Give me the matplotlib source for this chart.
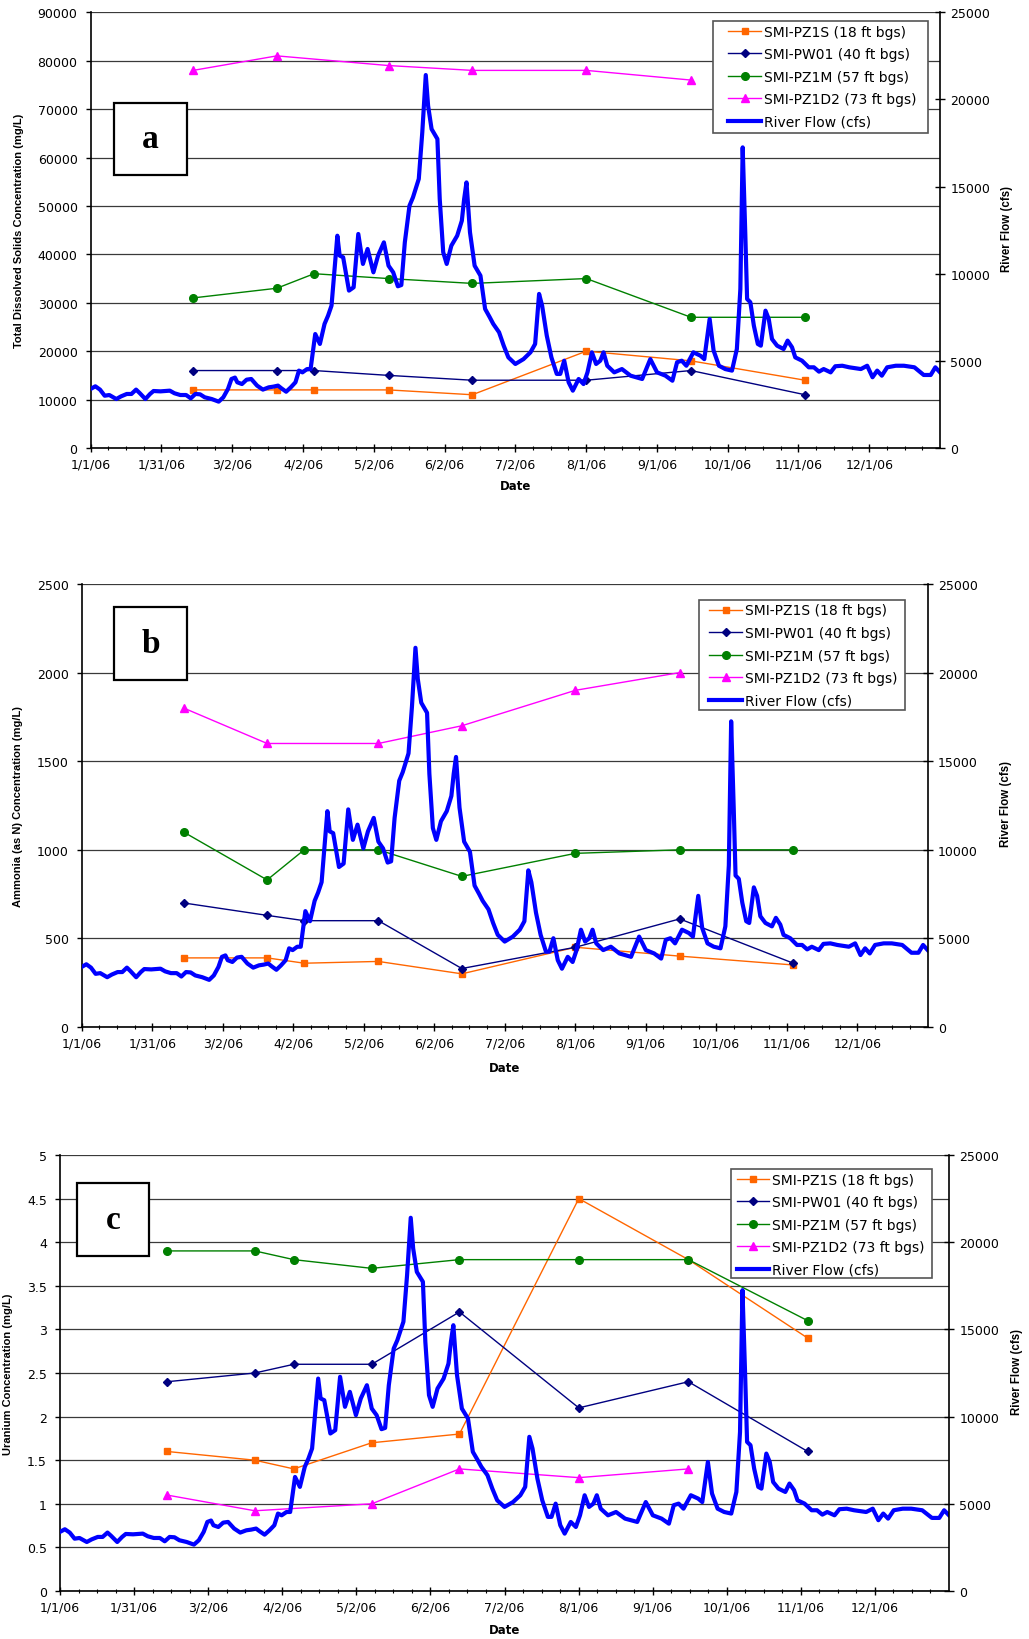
import numpy as np
import matplotlib.pyplot as plt
from matplotlib.patches import Rectangle
from matplotlib.ticker import FuncFormatter

plt.rcParams['font.family'] = ['DejaVu Sans']

W, H = 1029, 1640

# x axis: day of year 2006, Excel style evenly spaced date ticks
date_labels = ['1/1/06', '1/31/06', '3/2/06', '4/2/06', '5/2/06', '6/2/06',
               '7/2/06', '8/1/06', '9/1/06', '10/1/06', '11/1/06', '12/1/06']

# sampling dates (day of year)
sample_days = [44, 80, 96, 128, 164, 213, 258, 307]
well_names = ['SMI-PZ1S (18 ft bgs)', 'SMI-PW01 (40 ft bgs)',
              'SMI-PZ1M (57 ft bgs)', 'SMI-PZ1D2 (73 ft bgs)']
nan = np.nan

# a - total dissolved solids (mg/L)
tds_pz1s = [12000, 12000, 12000, 12000, 11000, 20000, 18000, 14000]
tds_pw01 = [16000, 16000, 16000, 15000, 14000, 14000, 16000, 11000]
tds_pz1m = [31000, 33000, 36000, 35000, 34000, 35000, 27000, 27000]
tds_pz1d2 = [78000, 81000, nan, 79000, 78000, 78000, 76000, nan]

# b - ammonia as N (mg/L)
nh3_pz1s = [390, 390, 360, 370, 300, 450, 400, 350]
nh3_pw01 = [700, 630, 600, 600, 330, 450, 610, 360]
nh3_pz1m = [1100, 830, 1000, 1000, 850, 980, 1000, 1000]
nh3_pz1d2 = [1800, 1600, nan, 1600, 1700, 1900, 2000, nan]

# c - uranium (mg/L)
u_pz1s = [1.6, 1.5, 1.4, 1.7, 1.8, 4.5, 3.8, 2.9]
u_pw01 = [2.4, 2.5, 2.6, 2.6, 3.2, 2.1, 2.4, 1.6]
u_pz1m = [3.9, 3.9, 3.8, 3.7, 3.8, 3.8, 3.8, 3.1]
u_pz1d2 = [1.1, 0.92, nan, 1.0, 1.4, 1.3, 1.4, nan]

# river flow (cfs)
flow_day = [0, 2, 4, 6, 8, 11, 13, 15.5, 17.5, 19.5, 21, 23.5, 25.5, 27, 30, 34, 36,
            38.5, 41, 43, 45, 47, 49, 52, 55, 57, 59, 60.5, 62, 63, 65, 67, 69, 71.5,
            74, 76.5, 78.5, 80.5, 82, 84, 86, 88, 89.5, 91, 93, 94.5, 96.5, 98.5,
            100.5, 102, 103.5, 106, 107, 108.5, 111, 113, 115, 117, 119, 121.5,
            123.5, 126, 128, 130, 132, 133.5, 135, 137, 138.5, 141, 142.5, 144,
            145, 146.5, 149, 150, 151.5, 153, 155, 157.5, 159.5, 160.5, 161.5, 163,
            165, 167.5, 169.5, 171.5, 173, 175.5, 177.5, 179.5, 182.5, 186, 189,
            191, 192.7, 194, 196, 198, 200.3, 201.8, 203.5, 205.4, 207.2, 209.7,
            211.8, 213.5, 215.4, 217.2, 219, 220.4, 222, 225, 228.3, 232, 237,
            240.5, 243.4, 247, 250, 252, 254, 256, 259, 262, 263.7, 266, 267.7,
            270, 272.7, 275.6, 277.7, 279.2, 280.2, 281.3, 282.1, 283.5, 285,
            286.7, 288, 290, 291.4, 292.8, 295, 297.8, 299.5, 301.4, 302.8, 305.7,
            308.6, 310.8, 313, 315, 318, 320, 323, 326, 331, 333.7, 336, 338, 340,
            342.3, 346, 349.5, 354, 358, 361, 363, 365]
flow_cfs = [3390, 3540, 3350, 3000, 3040, 2810, 2960, 3100, 3100, 3350, 3160, 2810,
            3100, 3270, 3250, 3290, 3140, 3040, 3040, 2850, 3100, 3080, 2910, 2810,
            2660, 2910, 3390, 3960, 4040, 3770, 3670, 3920, 3960, 3580, 3350, 3480,
            3520, 3580, 3420, 3230, 3480, 3770, 4440, 4340, 4530, 4530, 6540, 5970,
            7120, 7590, 8170, 12180, 11040, 10940, 9030, 9220, 12280, 10560, 11420,
            10080, 11040, 11800, 10460, 10080, 9280, 9350, 11800, 13900, 14380,
            15440, 18110, 21400, 19640, 18300, 17730, 14290, 11230, 10560, 11610,
            12180, 13040, 14290, 15240, 12380, 10460, 9890, 7980, 7500, 7120, 6640,
            5870, 5200, 4820, 5100, 5490, 5970, 8840, 8170, 6450, 5200, 4250, 4250,
            5010, 3770, 3290, 3960, 3670, 4340, 5490, 4820, 5010, 5490, 4720, 4340,
            4530, 4150, 3960, 5100, 4340, 4150, 3860, 4920, 5010, 4720, 5490, 5300,
            5100, 7400, 5590, 4720, 4530, 4440, 5680, 9120, 17250, 12380, 8550,
            8360, 7020, 5970, 5870, 7880, 7400, 6250, 5870, 5680, 6160, 5780, 5200,
            5010, 4630, 4630, 4380, 4530, 4340, 4690, 4720, 4630, 4530, 4720, 4060,
            4440, 4150, 4630, 4720, 4720, 4630, 4190, 4190, 4630, 4340]

styles = [dict(color='#FF6600', marker='s', ms=4.5),
          dict(color='#000080', marker='D', ms=4),
          dict(color='#008000', marker='o', ms=5.5),
          dict(color='#FF00FF', marker='^', ms=5.5)]


def fx(px):
    return px / W


def fy(py):
    return 1 - py / H


fig = plt.figure(figsize=(W / 100, H / 100), dpi=100)


def panel(box, wells, ymax, ystep, ylabel, letter, letter_box, leg_xy,
          ylab_x, rlab_x, date_y):
    l, t, r, b = box
    ax = fig.add_axes([fx(l), fy(b), (r - l) / W, (b - t) / H])
    handles = []
    for vals, st, name in zip(wells, styles, well_names):
        v = np.array(vals, dtype=float)
        d = np.array(sample_days, dtype=float)
        ok = ~np.isnan(v)
        ln, = ax.plot(d[ok], v[ok], lw=1.0, mec=st['color'], **st)
        handles.append(ln)
    ax.set_xlim(0, 365)
    ax.set_ylim(0, ymax)
    ax.set_yticks(np.arange(0, ymax + ystep / 2, ystep))
    ax.yaxis.set_major_formatter(FuncFormatter(lambda v, p: '%g' % v))
    ax.set_xticks([k * 365 / 12 for k in range(12)])
    ax.set_xticklabels(date_labels)
    ax.set_xticks([k * 365 / 48 for k in range(48) if k % 4], minor=True)
    ax.yaxis.grid(True, color='#3a3a3a', lw=0.9)
    ax.set_axisbelow(True)
    ax.spines['top'].set_visible(False)
    ax.spines['right'].set_visible(False)
    for s in ('left', 'bottom'):
        ax.spines[s].set_linewidth(1.2)
    ax.tick_params(axis='y', direction='out', length=3.5, width=1, pad=6, labelsize=9)
    ax.tick_params(axis='x', which='major', direction='inout', length=6, width=1,
                   pad=4, labelsize=9)
    ax.tick_params(axis='x', which='minor', direction='inout', length=3.5, width=0.8)

    ax2 = ax.twinx()
    rl, = ax2.plot(flow_day, flow_cfs, color='#0000FF', lw=3)
    handles.append(rl)
    ax2.set_ylim(0, 25000)
    ax2.set_yticks(np.arange(0, 25001, 5000))
    ax2.set_xlim(0, 365)
    for s in ('top', 'left', 'bottom'):
        ax2.spines[s].set_visible(False)
    ax2.spines['right'].set_linewidth(1.2)
    ax2.tick_params(axis='y', direction='inout', length=7, width=1, pad=4, labelsize=9)

    # legend with a hand placed frame
    fl, ft, fr, fb = leg_xy[0]
    ax2.add_patch(Rectangle((fx(fl), fy(fb)), (fr - fl) / W, (fb - ft) / H,
                            transform=fig.transFigure, facecolor='white',
                            edgecolor='#555555', lw=1.2, clip_on=False, zorder=10))
    leg = ax2.legend(handles, well_names + ['River Flow (cfs)'], loc='upper left',
                     bbox_to_anchor=(fx(leg_xy[1][0]), fy(leg_xy[1][1])),
                     bbox_transform=fig.transFigure, frameon=False, fontsize=10,
                     labelspacing=0.62, handlelength=2.35, handletextpad=0.2,
                     borderpad=0, borderaxespad=0)
    leg.set_zorder(11)

    fig.text(fx(ylab_x), fy((t + b) / 2), ylabel, rotation=90, ha='center',
             va='center', fontsize=8, fontweight='bold', family='Liberation Sans')
    fig.text(fx(rlab_x), fy((t + b) / 2 - 2), 'River Flow (cfs)', rotation=90,
             ha='center', va='center', fontsize=8.3, fontweight='bold',
             family='Liberation Sans')
    fig.text(fx((l + r) / 2), fy(date_y), 'Date', ha='center', va='center',
             fontsize=8.5, fontweight='bold')

    x0, y0, x1, y1 = letter_box
    fig.add_artist(Rectangle((fx(x0), fy(y1)), (x1 - x0) / W, (y1 - y0) / H,
                             transform=fig.transFigure, facecolor='white',
                             edgecolor='black', lw=1.6, zorder=5))
    fig.text(fx((x0 + x1) / 2), fy((y0 + y1) / 2), letter, ha='center', va='center',
             fontsize=24, fontweight='bold', family='Liberation Serif', zorder=6)


panel((90.7, 13.3, 940, 449), [tds_pz1s, tds_pw01, tds_pz1m, tds_pz1d2], 90000, 10000,
      'Total Dissolved Solids Concentration (mg/L)', 'a', (114.3, 104, 186.7, 176),
      ((713.3, 21.7, 927.7, 134), (728.3, 25.5)), 19, 1006.7, 486.7)

panel((81.7, 585, 927.7, 1028), [nh3_pz1s, nh3_pw01, nh3_pz1m, nh3_pz1d2], 2500, 500,
      'Ammonia (as N) Concentration (mg/L)', 'b', (114.3, 608.3, 186.7, 680.7),
      ((699.3, 600.7, 905, 710.7), (709.3, 604.5)), 18, 1006, 1068)

panel((60, 1156, 949, 1592), [u_pz1s, u_pw01, u_pz1m, u_pz1d2], 5, 0.5,
      'Uranium Concentration (mg/L)', 'c', (76.7, 1184, 149, 1256.7),
      ((731, 1170, 931.7, 1279.3), (736.7, 1173.5)), 8, 1016.7, 1630.7)

fig.savefig('out.png', dpi=100)
